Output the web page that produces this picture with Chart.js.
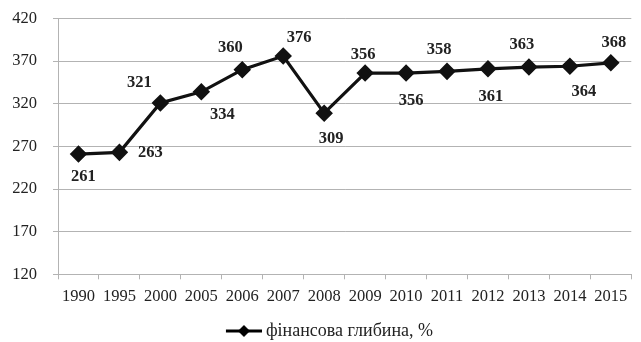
<!DOCTYPE html>
<html>
<head>
<meta charset="utf-8">
<script src="https://cdn.jsdelivr.net/npm/chart.js@4/dist/chart.umd.min.js"></script>
<style>
  html, body { margin: 0; padding: 0; background: #fff; }
  #wrap { width: 641px; height: 342px; }
</style>
</head>
<body>
<div id="wrap"><canvas id="c" width="641" height="342"></canvas></div>
<script>
// Financial depth by year, %
const years = ['1990', '1995', '2000', '2005', '2006', '2007', '2008', '2009', '2010', '2011', '2012', '2013', '2014', '2015'];
const depth = [261, 263, 321, 334, 360, 376, 309, 356, 356, 358, 361, 363, 364, 368];
const yTicks = [120, 170, 220, 270, 320, 370, 420];
const seriesName = 'фінансова глибина, %';

const SERIF = '"Liberation Serif", "Times New Roman", serif';
const GRID = '#b3b3b3';

// Where each value label sits relative to its marker (dx, dy in px)
const labelPlacement = [
  [5, 23], [31, 0], [-21, -20], [21, 23], [-12, -22], [16, -18], [7, 26],
  [-2, -18], [5, 28], [-8, -22], [3, 28], [-7, -22], [14, 25], [3, -20]
];

// Legend swatch: a short line with a diamond marker, drawn at the right end of the image
const SWATCH_BOX = 56;
function legendSwatch() {
  const cv = document.createElement('canvas');
  cv.width = SWATCH_BOX + 10; cv.height = 14;
  const g = cv.getContext('2d');
  const x0 = cv.width - 36, x1 = cv.width, xm = (x0 + x1) / 2;
  g.strokeStyle = '#000';
  g.lineWidth = 3;
  g.beginPath(); g.moveTo(x0, 7); g.lineTo(x1, 7); g.stroke();
  g.fillStyle = '#000';
  g.beginPath(); g.moveTo(xm, 1); g.lineTo(xm + 6, 7); g.lineTo(xm, 13); g.lineTo(xm - 6, 7); g.closePath(); g.fill();
  return cv;
}

const valueLabels = {
  id: 'valueLabels',
  afterDatasetsDraw(chart, args, opts) {
    const ctx = chart.ctx;
    const meta = chart.getDatasetMeta(0);
    const values = chart.data.datasets[0].data;
    ctx.save();
    ctx.font = 'bold 16.5px ' + SERIF;
    ctx.fillStyle = '#222';
    ctx.textAlign = 'center';
    ctx.textBaseline = 'middle';
    meta.data.forEach((pt, i) => {
      const [dx, dy] = opts.placement[i] || [0, -20];
      ctx.fillText(String(values[i]), pt.x + dx, pt.y + dy);
    });
    ctx.restore();
  }
};

// Keeps the legend band compact so the plot keeps its height
const compactLegend = {
  id: 'compactLegend',
  beforeUpdate(chart, args, opts) {
    const lg = chart.legend;
    if (lg && !lg._compact) {
      const fit = lg.fit.bind(lg);
      lg.fit = function () { fit(); this.height = opts.height; };
      lg._compact = true;
    }
  }
};

new Chart(document.getElementById('c'), {
  type: 'line',
  data: {
    labels: years,
    datasets: [{
      label: seriesName,
      data: depth,
      borderColor: '#111',
      backgroundColor: '#111',
      borderWidth: 3.2,
      pointStyle: 'rectRot',
      pointRadius: 6.5,
      pointHoverRadius: 6.5,
      pointBackgroundColor: '#111',
      pointBorderColor: '#111',
      tension: 0
    }]
  },
  options: {
    responsive: false,
    animation: false,
    devicePixelRatio: 1,
    layout: { padding: { left: 0, right: 7, top: 18.5, bottom: 0 } },
    scales: {
      x: {
        offset: true,
        grid: {
          offset: true,
          display: true,
          drawOnChartArea: false,
          drawTicks: true,
          tickLength: 5,
          color: GRID
        },
        border: { display: true, color: GRID, width: 1 },
        ticks: {
          color: '#222',
          font: { family: SERIF, size: 16.5 },
          padding: 7,
          maxRotation: 0,
          autoSkip: false
        },
        afterFit(scale) { scale.height = 43.7; }
      },
      y: {
        min: 120,
        max: 420,
        afterBuildTicks(scale) { scale.ticks = yTicks.map(v => ({ value: v })); },
        grid: { color: GRID, lineWidth: 1, drawTicks: true, tickLength: 5 },
        border: { display: true, color: GRID, width: 1 },
        ticks: {
          color: '#222',
          font: { family: SERIF, size: 16.5 },
          padding: 16
        },
        afterFit(scale) {
          scale.width = 58;
          scale.paddingTop = 0;
          scale.paddingBottom = 0;
        }
      }
    },
    plugins: {
      legend: {
        position: 'bottom',
        labels: {
          color: '#222',
          font: { family: SERIF, size: 18 },
          usePointStyle: true,
          pointStyleWidth: SWATCH_BOX,
          padding: 4,
          generateLabels(chart) {
            return [{
              text: seriesName,
              pointStyle: legendSwatch(),
              fillStyle: '#000',
              strokeStyle: '#000',
              lineWidth: 0,
              hidden: false,
              datasetIndex: 0,
              fontColor: '#222'
            }];
          }
        }
      },
      compactLegend: { height: 24 },
      tooltip: { enabled: false },
      valueLabels: { placement: labelPlacement }
    }
  },
  plugins: [compactLegend, valueLabels]
});
</script>
</body>
</html>
